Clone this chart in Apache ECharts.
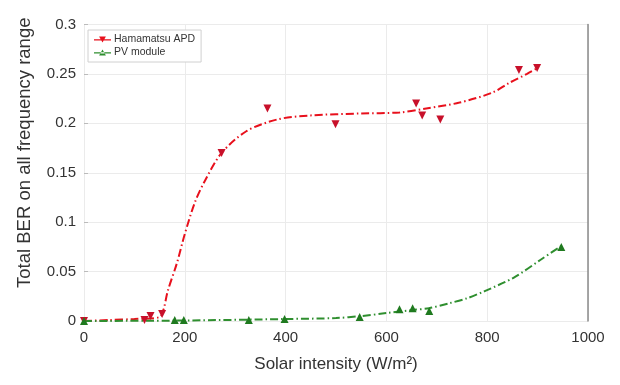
<!DOCTYPE html>
<html><head><meta charset="utf-8">
<script src="https://cdn.jsdelivr.net/npm/echarts@6/dist/echarts.min.js"></script>
<style>html,body{margin:0;padding:0;background:#fff}#c{width:620px;height:385px}</style>
</head><body><div id="c"></div>
<script>
// Measured points (Solar intensity W/m^2, Total BER)
const apdX = [0, 120, 132, 155, 273, 364, 499, 659, 671, 707, 863, 899];
const apdY = [0, 0.001, 0.005, 0.007, 0.17, 0.215, 0.199, 0.22, 0.208, 0.204, 0.254, 0.256];
const pvX = [0, 180, 198, 327, 398, 547, 626, 652, 685, 947];
const pvY = [0, 0.001, 0.001, 0.001, 0.002, 0.004, 0.012, 0.013, 0.01, 0.075];
// Fitted trend curves
const apdFitX = [0, 50, 100, 150, 158, 166, 184, 200, 220, 240, 273, 322, 384, 450, 550, 626, 679, 745, 810, 844, 879, 900];
const apdFitY = [0, 0.001, 0.002, 0.004, 0.012, 0.03, 0.058, 0.088, 0.12, 0.142, 0.17, 0.192, 0.204, 0.208, 0.21, 0.211, 0.215, 0.221, 0.231, 0.241, 0.25, 0.256];
const pvFitX = [0, 200, 400, 500, 550, 600, 650, 685, 725, 760, 794, 853, 909, 947];
const pvFitY = [0, 0.0005, 0.002, 0.003, 0.005, 0.008, 0.011, 0.013, 0.018, 0.023, 0.03, 0.044, 0.063, 0.076];
const xTicks = [0, 200, 400, 600, 800, 1000];
const yTicks = [0, 0.05, 0.1, 0.15, 0.2, 0.25, 0.3];
const seriesNames = ['Hamamatsu APD', 'PV module'];

const zip = (a, b) => a.map((v, i) => [v, b[i]]);
const RED = '#e8101c', RED_M = '#c8102a', GREEN = '#2f8f2f', GREEN_M = '#1f7a1f';
const dashDot = [8, 3, 1.5, 3];
const font = 'Liberation Sans, Arial, sans-serif';

const chart = echarts.init(document.getElementById('c'), null, {renderer: 'canvas'});
chart.setOption({
  animation: false,
  backgroundColor: '#fff',
  grid: {left: 84, right: 32, top: 24.5, bottom: 64},
  legend: {
    left: 88, top: 30, orient: 'vertical', itemGap: 2, itemWidth: 17, itemHeight: 8,
    padding: [4, 6, 4, 6], borderColor: '#d0d0d0', borderWidth: 1, backgroundColor: '#fff',
    textStyle: {fontFamily: font, fontSize: 10.5, color: '#333', padding: [0, 0, 0, -2]},
    data: [
      {name: seriesNames[0], icon: 'path://M0,4.3H20V5.7H0Z M6,1H14L10,8Z', itemStyle: {color: RED}},
      {name: seriesNames[1], icon: 'path://M0,4.3H20V5.7H0Z M6,8H14L10,1Z', itemStyle: {color: GREEN}}
    ]
  },
  xAxis: {
    type: 'value', min: 0, max: 1000, interval: 200,
    name: 'Solar intensity (W/m²)', nameLocation: 'middle', nameGap: 35,
    nameTextStyle: {fontFamily: font, fontSize: 17, color: '#333'},
    axisLine: {show: false},
    axisTick: {show: false},
    axisLabel: {fontFamily: font, fontSize: 15, color: '#333', margin: 9,
      formatter: v => xTicks.includes(v) ? String(v) : ''},
    splitLine: {show: true, lineStyle: {color: '#ebebeb', width: 1}}
  },
  yAxis: [{
    type: 'value', min: 0, max: 0.3, interval: 0.05,
    name: 'Total BER on all frequency range', nameLocation: 'middle', nameGap: 50,
    nameTextStyle: {fontFamily: font, fontSize: 18.5, color: '#333', padding: [0, 0, 0, 40]},
    axisLine: {show: false},
    axisTick: {show: true, inside: true, length: 4, lineStyle: {color: '#bbb'}},
    axisLabel: {fontFamily: font, fontSize: 15, color: '#333', margin: 8,
      formatter: v => { const t = yTicks.find(k => Math.abs(k - v) < 1e-9); return t === undefined ? '' : String(t); }},
    splitLine: {show: true, lineStyle: {color: '#ebebeb', width: 1}}
  }, {
    type: 'value', min: 0, max: 0.3, interval: 0.05, position: 'right',
    axisLine: {show: true, lineStyle: {color: '#8a8a8a', width: 1.5}},
    axisTick: {show: false}, axisLabel: {show: false}, splitLine: {show: false}
  }],
  series: [
    {name: seriesNames[0], type: 'scatter', data: zip(apdX, apdY), symbol: 'triangle', symbolRotate: 180,
     symbolSize: 8, itemStyle: {color: RED_M, opacity: 1}, z: 5},
    {name: seriesNames[1], type: 'scatter', data: zip(pvX, pvY), symbol: 'triangle',
     symbolSize: 8, itemStyle: {color: GREEN_M, opacity: 1}, z: 5},
    {name: seriesNames[0] + ' fit', type: 'line', data: zip(apdFitX, apdFitY), showSymbol: false, smooth: 0.3,
     lineStyle: {color: RED, width: 2, type: dashDot}, z: 3},
    {name: seriesNames[1] + ' fit', type: 'line', data: zip(pvFitX, pvFitY), showSymbol: false, smooth: 0.3,
     lineStyle: {color: GREEN, width: 2, type: dashDot}, z: 3}
  ]
});
</script></body></html>
